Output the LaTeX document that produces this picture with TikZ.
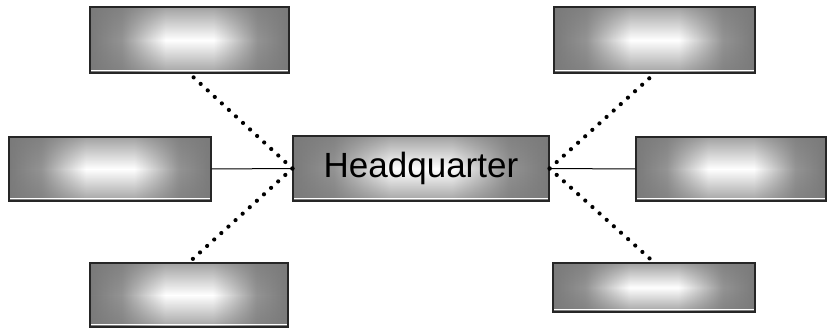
\documentclass[tikz,border=0pt]{standalone}
\usepackage{fontspec}
\setmainfont{Liberation Sans}
\usetikzlibrary{fadings}
\pgfdeclarehorizontalshading{hglow}{100bp}{color(0bp)=(black!52); color(25bp)=(black!52); color(33bp)=(black!42); color(40bp)=(black!15); color(44bp)=(white); color(56bp)=(white); color(60bp)=(black!15); color(67bp)=(black!42); color(75bp)=(black!52); color(100bp)=(black!52)}
\tikzfading[name=edgefade, top color=transparent!30, bottom color=transparent!30, middle color=transparent!100]
\tikzset{
  unit/.style={draw=black!85, line width=1.2pt, inner sep=0pt,
    path picture={
      \shade[shading=hglow]
        (path picture bounding box.south west) rectangle (path picture bounding box.north east);
      \fill[black!52, path fading=edgefade]
        (path picture bounding box.south west) rectangle (path picture bounding box.north east);
      \draw[white, line width=0.9pt] ([xshift=1pt,yshift=2.6pt]path picture bounding box.south west) -- ([xshift=-1pt,yshift=2.6pt]path picture bounding box.south east);}},
  dots/.style={line width=4.2pt, line cap=round, dash pattern=on 0pt off 9.6pt},
  link/.style={line width=1pt}
}
\begin{document}
\begin{tikzpicture}[x=1pt,y=1pt]
\useasboundingbox (0,0) rectangle (828,330);
\node[unit, minimum width=256pt, minimum height=65pt] (hq) at (421,161.5) {\fontsize{35}{38}\selectfont Headquarter};
\node[unit, minimum width=199pt, minimum height=66pt] (tl) at (189.5,290) {};
\node[unit, minimum width=202pt, minimum height=64pt] (lm) at (110,161) {};
\node[unit, minimum width=198pt, minimum height=64pt] (bl) at (189,35) {};
\node[unit, minimum width=201pt, minimum height=66pt] (tr) at (654.5,290) {};
\node[unit, minimum width=190pt, minimum height=64pt] (rm) at (731,161) {};
\node[unit, minimum width=202pt, minimum height=49pt] (br) at (654,42.5) {};
\draw[link] (lm.east) -- (hq.west);
\draw[link] (hq.east) -- (rm.west);
\draw[dots] (hq.west) -- (tl.south);
\draw[dots] (hq.west) -- (bl.north);
\draw[dots] (hq.east) -- (tr.south);
\draw[dots] (hq.east) -- (br.north);
\end{tikzpicture}
\end{document}
